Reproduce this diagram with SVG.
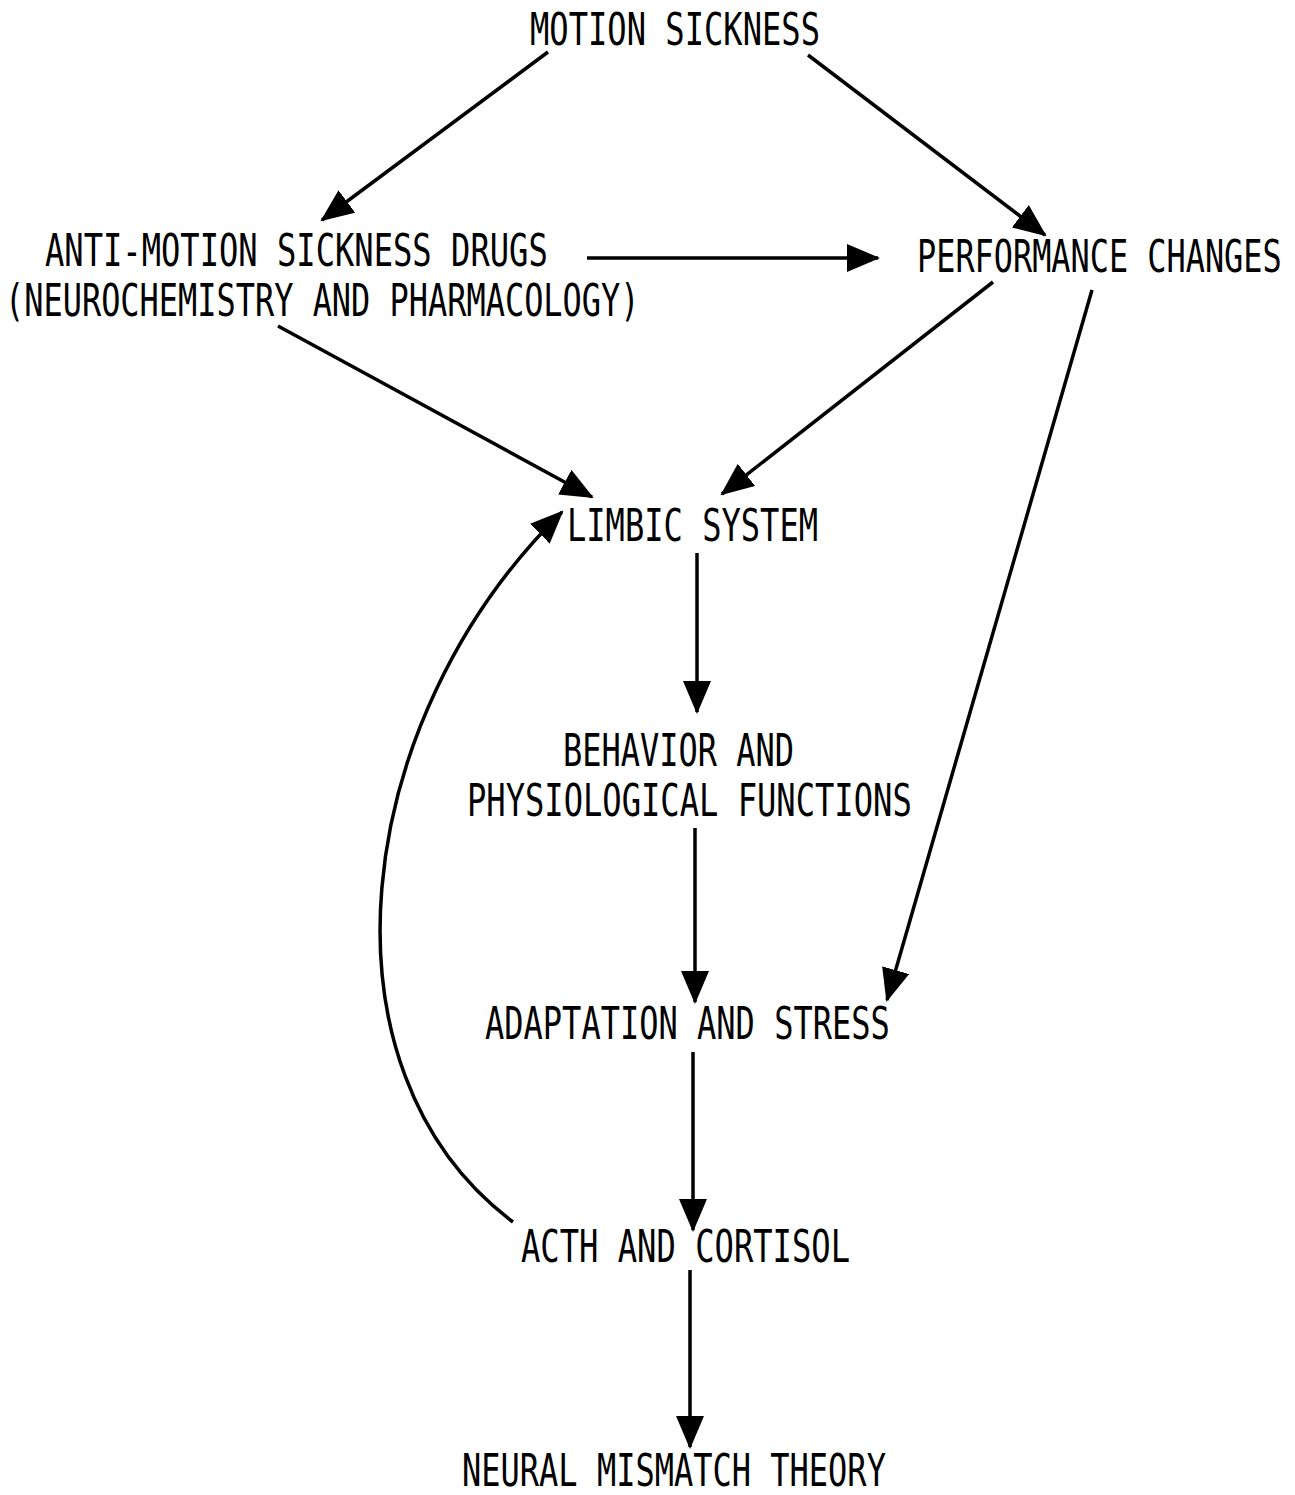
<svg xmlns="http://www.w3.org/2000/svg" width="1295" height="1495" viewBox="0 0 1295 1495">
<style>
text{font-family:"DejaVu Sans Mono","Liberation Mono",monospace;font-size:44px;fill:#000}
.c{stroke:#000;stroke-width:3.5;fill:none;marker-end:url(#ah)}
</style>
<defs>
<marker id="ah" markerUnits="userSpaceOnUse" markerWidth="34" markerHeight="30" refX="31" refY="14" orient="auto" viewBox="0 0 34 30">
<path d="M0,0 L33,14 L0,28 z" fill="#000"/>
</marker>
</defs>
<rect width="1295" height="1495" fill="#fff"/>
<g id="connectors">
<line class="c" x1="548" y1="52" x2="322" y2="220"/>
<line class="c" x1="808" y1="55" x2="1045" y2="235"/>
<line class="c" x1="587" y1="258" x2="878" y2="258"/>
<line class="c" x1="278" y1="326" x2="592" y2="497"/>
<line class="c" x1="993" y1="282" x2="722" y2="494"/>
<line class="c" x1="1092" y1="290" x2="887" y2="1000"/>
<line class="c" x1="697" y1="553" x2="697" y2="712"/>
<line class="c" x1="695" y1="828" x2="695" y2="1002"/>
<line class="c" x1="693" y1="1052" x2="693" y2="1230"/>
<line class="c" x1="690" y1="1270" x2="690" y2="1447"/>
<path class="c" d="M513,1222 C310,1070 350,720 562,512"/>
</g>
<g id="n-motion"><text transform="translate(530,45) scale(0.730,1)">MOTION SICKNESS</text></g>
<g id="n-drugs">
<text transform="translate(45,266) scale(0.730,1)">ANTI-MOTION SICKNESS DRUGS</text>
<text transform="translate(5,316) scale(0.726,1)">(NEUROCHEMISTRY AND PHARMACOLOGY)</text>
</g>
<g id="n-performance"><text transform="translate(917,272) scale(0.725,1)">PERFORMANCE CHANGES</text></g>
<g id="n-limbic"><text transform="translate(567,541) scale(0.729,1)">LIMBIC SYSTEM</text></g>
<g id="n-behavior">
<text transform="translate(563,766) scale(0.727,1)">BEHAVIOR AND</text>
<text transform="translate(467,816) scale(0.730,1)">PHYSIOLOGICAL FUNCTIONS</text>
</g>
<g id="n-adaptation"><text transform="translate(485,1039) scale(0.728,1)">ADAPTATION AND STRESS</text></g>
<g id="n-acth"><text transform="translate(521,1262) scale(0.731,1)">ACTH AND CORTISOL</text></g>
<g id="n-neural"><text transform="translate(462,1486) scale(0.7275,1)">NEURAL MISMATCH THEORY</text></g>
</svg>
